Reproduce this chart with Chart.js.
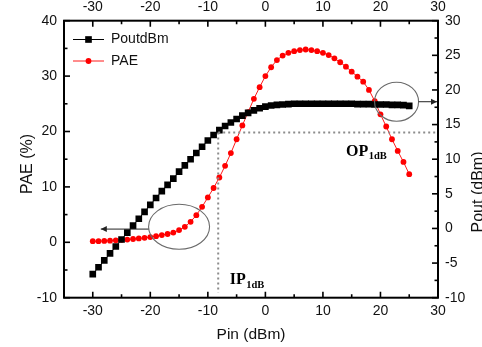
<!DOCTYPE html>
<html><head><meta charset="utf-8">
<script src="https://cdn.jsdelivr.net/npm/chart.js@4/dist/chart.umd.min.js"></script>
<style>html,body{margin:0;padding:0;background:#fff;overflow:hidden}canvas{display:block}</style>
</head><body>
<canvas id="c" width="482" height="347"></canvas>
<script>
// ---- data ----
const pinDbm = [-30,-29,-28,-27,-26,-25,-24,-23,-22,-21,-20,-19,-18,-17,-16,-15,-14,-13,-12,-11,-10,-9,-8,-7,-6,-5,-4,-3,-2,-1,0,1,2,3,4,5,6,7,8,9,10,11,12,13,14,15,16,17,18,19,20,21,22,23,24,25];
const poutDbm = [-6.6,-5.6,-4.6,-3.6,-2.6,-1.6,-0.6,0.4,1.4,2.4,
                 3.4,4.4,5.4,6.3,7.2,8.2,9.1,10.0,10.9,11.8,
                 12.7,13.5,14.2,14.8,15.3,15.8,16.3,16.7,17.05,17.35,
                 17.6,17.75,17.85,17.9,17.95,18.0,18.0,18.0,18.0,18.0,
                 18.0,18.0,18.0,18.0,18.0,18.0,17.95,17.95,17.95,17.9,
                 17.9,17.9,17.85,17.85,17.8,17.7];
const paePercent = [0.2,0.2,0.25,0.3,0.35,0.45,0.5,0.6,0.7,0.8,
                    0.95,1.1,1.3,1.5,1.75,2.2,2.8,3.7,4.9,6.4,
                    8.1,9.8,11.7,13.8,16.1,18.6,21.1,23.5,25.9,28.0,
                    30.0,31.6,32.9,33.7,34.2,34.5,34.7,34.8,34.7,34.5,
                    34.2,33.8,33.2,32.5,31.7,30.8,29.9,29.0,27.5,25.5,
                    23.1,20.9,18.6,16.5,14.5,12.3];
const pinTicks = [-30,-20,-10,0,10,20,30];
const paeTicks = [-10,0,10,20,30,40];
const poutTicks = [-10,-5,0,5,10,15,20,25,30];
const seriesNames = ['PoutdBm','PAE'];
const xTitle = 'Pin (dBm)';
const yTitle = 'PAE (%)';
const y2Title = 'Pout (dBm)';
const ip1dBPin = -8.2;      // dBm
const op1dBPae = 19.8;      // on PAE axis
const leftCircle = {pin:-15, pae:2.8};
const rightCircle = {pin:22.8, pout:18.3};

// ---- styles ----
const SANS = 'Arial, "Liberation Sans", sans-serif';
const SERIF = '"Times New Roman", "Liberation Serif", serif';
const tickFont = {family: SANS, size: 14};
const tickColor = '#111';

const decor = {
  id: 'decor',
  afterDatasetsDraw(chart) {
    const ctx = chart.ctx, a = chart.chartArea;
    const sx = chart.scales.x, sy = chart.scales.y, sy2 = chart.scales.y2;
    ctx.save();
    // dotted 1dB lines
    ctx.strokeStyle = '#8c8c8c'; ctx.lineWidth = 2; ctx.setLineDash([2, 3]);
    const px = sx.getPixelForValue(ip1dBPin), py = sy.getPixelForValue(op1dBPae);
    ctx.beginPath(); ctx.moveTo(px, py); ctx.lineTo(px, a.bottom - 5); ctx.stroke();
    ctx.beginPath(); ctx.moveTo(px, py); ctx.lineTo(a.right - 2, py); ctx.stroke();
    ctx.setLineDash([]);
    // ellipses
    ctx.strokeStyle = '#6a6a6a'; ctx.lineWidth = 1.1;
    const lcx = sx.getPixelForValue(leftCircle.pin), lcy = sy.getPixelForValue(leftCircle.pae);
    ctx.beginPath(); ctx.ellipse(lcx, lcy, 30.5, 22.5, 0, 0, Math.PI * 2); ctx.stroke();
    const rcx = sx.getPixelForValue(rightCircle.pin), rcy = sy2.getPixelForValue(rightCircle.pout);
    ctx.beginPath(); ctx.ellipse(rcx, rcy, 22, 19.5, 0, 0, Math.PI * 2); ctx.stroke();
    // arrows
    ctx.strokeStyle = '#222'; ctx.fillStyle = '#222'; ctx.lineWidth = 1;
    function arrow(x1, y1, x2, y2) {
      ctx.beginPath(); ctx.moveTo(x1, y1); ctx.lineTo(x2, y2); ctx.stroke();
      const d = Math.sign(x2 - x1);
      ctx.beginPath(); ctx.moveTo(x2, y2); ctx.lineTo(x2 - d * 6, y2 - 3); ctx.lineTo(x2 - d * 6, y2 + 3); ctx.closePath(); ctx.fill();
    }
    arrow(lcx - 30.5, lcy + 2.3, sx.getPixelForValue(-28.6), lcy + 2.3);
    arrow(rcx + 22, rcy, a.right - 1, rcy);
    // frame
    ctx.strokeStyle = '#000'; ctx.lineWidth = 2;
    ctx.strokeRect(a.left, a.top, a.right - a.left, a.bottom - a.top);
    // inward ticks
    ctx.lineWidth = 1.6;
    function xt(v, len) {
      const p = sx.getPixelForValue(v);
      ctx.beginPath(); ctx.moveTo(p, a.bottom); ctx.lineTo(p, a.bottom - len);
      ctx.moveTo(p, a.top); ctx.lineTo(p, a.top + len); ctx.stroke();
    }
    function yt(scale, v, len, left) {
      const p = scale.getPixelForValue(v);
      const x0 = left ? a.left : a.right;
      ctx.beginPath(); ctx.moveTo(x0, p); ctx.lineTo(left ? x0 + len : x0 - len, p); ctx.stroke();
    }
    for (let i = 0; i < pinTicks.length; i++) {
      xt(pinTicks[i], 6);
      if (i + 1 < pinTicks.length) xt((pinTicks[i] + pinTicks[i + 1]) / 2, 3.5);
    }
    for (let i = 0; i < paeTicks.length; i++) {
      yt(sy, paeTicks[i], 6, true);
      if (i + 1 < paeTicks.length) yt(sy, (paeTicks[i] + paeTicks[i + 1]) / 2, 3.5, true);
    }
    for (let i = 0; i < poutTicks.length; i++) {
      yt(sy2, poutTicks[i], 6, false);
      if (i + 1 < poutTicks.length) yt(sy2, (poutTicks[i] + poutTicks[i + 1]) / 2, 3.5, false);
    }
    // 1dB labels
    ctx.fillStyle = '#000'; ctx.textBaseline = 'alphabetic'; ctx.textAlign = 'left';
    function sub(main, subs, x, y) {
      ctx.font = 'bold 16px ' + SERIF; ctx.fillText(main, x, y);
      const w = ctx.measureText(main).width;
      ctx.font = 'bold 10.5px ' + SERIF; ctx.fillText(subs, x + w + 0.5, y + 3.5);
    }
    sub('OP', '1dB', sx.getPixelForValue(14), sy.getPixelForValue(15.6));
    sub('IP', '1dB', sx.getPixelForValue(-6.2), sy.getPixelForValue(-7.6));
    // legend
    chart.data.datasets.forEach((ds, i) => {
      const y = 39.5 + i * 21.5;
      ctx.strokeStyle = ds.borderColor; ctx.lineWidth = 1;
      ctx.beginPath(); ctx.moveTo(73, y); ctx.lineTo(104, y); ctx.stroke();
      ctx.fillStyle = ds.pointBackgroundColor;
      if (ds.pointStyle === 'rect') { const s = ds.pointRadius * Math.SQRT1_2; ctx.fillRect(88.5 - s, y - s, 2 * s, 2 * s); }
      else { ctx.beginPath(); ctx.arc(88.5, y, ds.pointRadius, 0, Math.PI * 2); ctx.fill(); }
      ctx.fillStyle = '#111'; ctx.font = '14px ' + SANS; ctx.textBaseline = 'middle';
      ctx.fillText(ds.label, 111, y);
    });
    // axis titles
    ctx.fillStyle = '#111'; ctx.textAlign = 'center'; ctx.textBaseline = 'middle';
    ctx.font = '15.5px ' + SANS;
    ctx.fillText(xTitle, (a.left + a.right) / 2, 335);
    ctx.font = '16px ' + SANS;
    ctx.save(); ctx.translate(28, 164); ctx.rotate(-Math.PI / 2); ctx.fillText(yTitle, 0, 0); ctx.restore();
    ctx.save(); ctx.translate(479, 192); ctx.rotate(-Math.PI / 2); ctx.fillText(y2Title, 0, 0); ctx.restore();
    ctx.restore();
  }
};

function fixedTicks(arr) { return s => { s.ticks = arr.map(v => ({value: v})); }; }
const common = {grid: {display: false, drawTicks: false, tickLength: 0}, border: {display: false}};

new Chart(document.getElementById('c'), {
  type: 'line',
  data: {
    datasets: [
      {label: seriesNames[0], data: pinDbm.map((p, i) => ({x: p, y: poutDbm[i]})), yAxisID: 'y2',
       borderColor: '#000', borderWidth: 1, pointStyle: 'rect', pointRadius: 4.7,
       pointBackgroundColor: '#000', pointBorderWidth: 0, pointHoverRadius: 4.7, tension: 0},
      {label: seriesNames[1], data: pinDbm.map((p, i) => ({x: p, y: paePercent[i]})), yAxisID: 'y',
       borderColor: '#ff1a1a', borderWidth: 1, pointStyle: 'circle', pointRadius: 2.9,
       pointBackgroundColor: '#ff0000', pointBorderWidth: 0, pointHoverRadius: 2.9, tension: 0}
    ]
  },
  options: {
    responsive: false, devicePixelRatio: 1, animation: false,
    layout: {padding: 0},
    plugins: {legend: {display: false}, tooltip: {enabled: false}},
    scales: {
      x: {type: 'linear', position: 'bottom', min: -35, max: 30, ...common,
          afterBuildTicks: fixedTicks(pinTicks), afterFit: s => { s.height = 49.3; },
          ticks: {padding: 5, color: tickColor, font: tickFont, maxRotation: 0, autoSkip: false}},
      x2: {type: 'linear', position: 'top', min: -35, max: 30, ...common,
          afterBuildTicks: fixedTicks(pinTicks), afterFit: s => { s.height = 20.7; },
          ticks: {padding: 5, color: tickColor, font: tickFont, maxRotation: 0, autoSkip: false}},
      y: {type: 'linear', position: 'left', min: -10, max: 40, ...common,
          afterBuildTicks: fixedTicks(paeTicks), afterFit: s => { s.width = 64; },
          ticks: {padding: 7, color: tickColor, font: tickFont, autoSkip: false}},
      y2: {type: 'linear', position: 'right', min: -10, max: 30, ...common,
          afterBuildTicks: fixedTicks(poutTicks), afterFit: s => { s.width = 44; },
          ticks: {padding: 7, color: tickColor, font: tickFont, autoSkip: false}}
    }
  },
  plugins: [decor]
});
</script>
</body></html>
